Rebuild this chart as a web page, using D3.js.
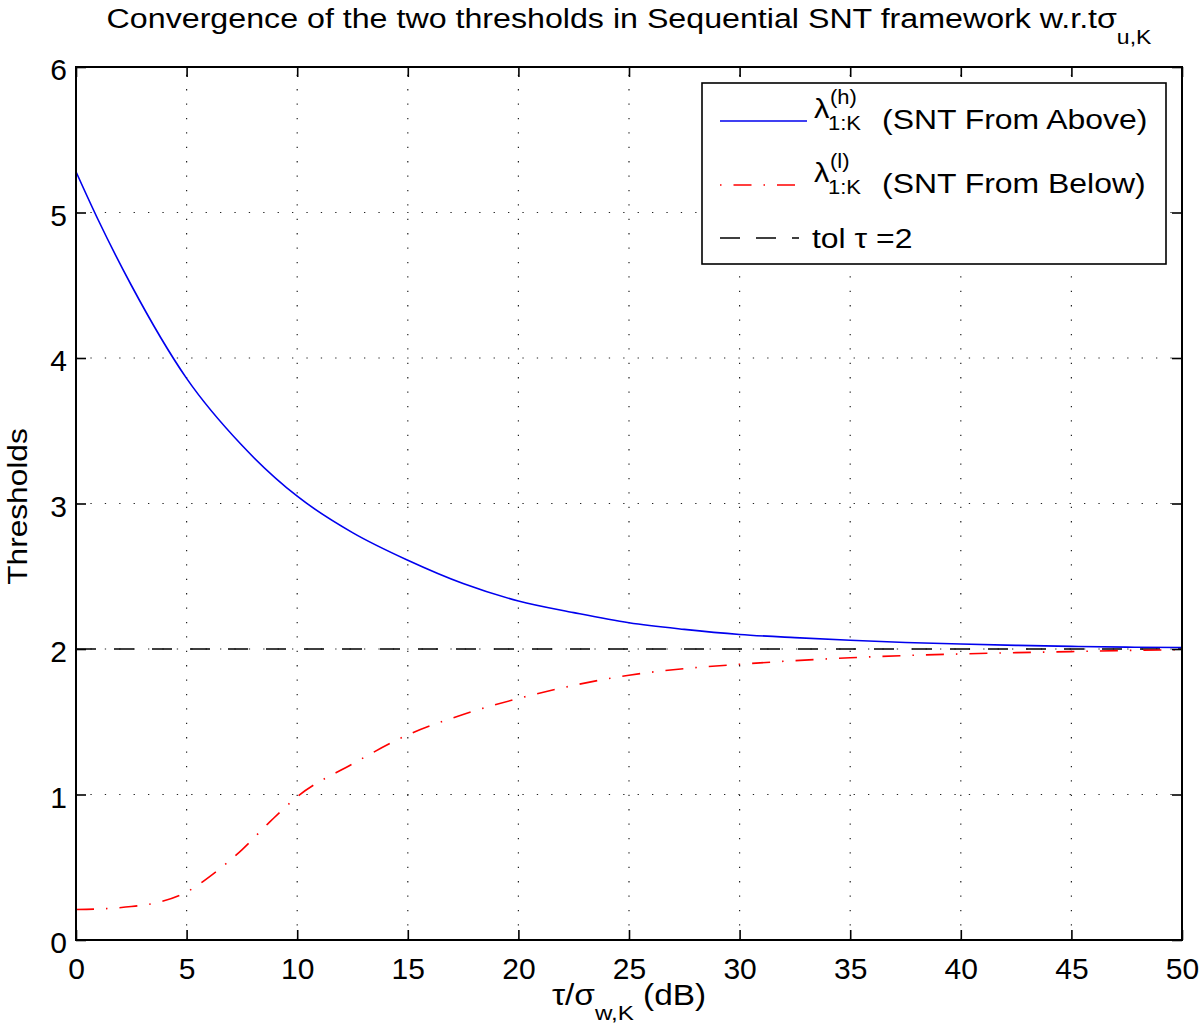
<!DOCTYPE html>
<html>
<head>
<meta charset="utf-8">
<script src="https://cdn.jsdelivr.net/npm/d3@7"></script>
<style>
  html, body { margin: 0; padding: 0; background: #fff; }
  svg { display: block; font-family: "Liberation Sans", Arial, Helvetica, sans-serif; }
</style>
</head>
<body>
<svg id="chart" width="1200" height="1030"></svg>
<script>
// ---- data ----
const xValues = [0, 1, 2.5, 5, 7.5, 10, 12.5, 15, 17.5, 20, 22.5, 25, 27.5, 30, 32.5, 35, 37.5, 40, 42.5, 45, 47.5, 50];
const aboveValues = [5.28, 4.95, 4.50, 3.86, 3.40, 3.05, 2.80, 2.61, 2.45, 2.33, 2.25, 2.18, 2.135, 2.10, 2.078, 2.06, 2.045, 2.034, 2.025, 2.018, 2.013, 2.01];
const belowX = [0, 1.25, 2.5, 3.75, 5, 6.25, 7.5, 8.75, 10, 12.5, 15, 17.5, 20, 22.5, 25, 27.5, 30, 32.5, 35, 37.5, 40, 42.5, 45, 47.5, 50];
const belowValues = [0.21, 0.215, 0.23, 0.26, 0.33, 0.46, 0.62, 0.81, 0.985, 1.21, 1.41, 1.55, 1.66, 1.75, 1.82, 1.865, 1.895, 1.92, 1.94, 1.955, 1.966, 1.975, 1.982, 1.99, 1.995];
const tolValue = 2;
const xTicks = [0, 5, 10, 15, 20, 25, 30, 35, 40, 45, 50];
const yTicks = [0, 1, 2, 3, 4, 5, 6];

const svg = d3.select("#chart");
const L = 76, R = 1182, T = 67, B = 940;
const x = d3.scaleLinear().domain([0, 50]).range([L, R]);
const y = d3.scaleLinear().domain([0, 6]).range([B, T]);

// text helper: horizontally stretched text like the reference rendering
function addText(parent, px, py, size, sx, anchor, rot) {
  const g = parent.append("g").attr("transform", `translate(${px},${py})${rot ? ` rotate(${rot})` : ""} scale(${sx},1)`);
  return g.append("text").attr("x", 0).attr("y", 0).attr("font-size", size).attr("fill", "#000")
    .attr("text-anchor", anchor || "start");
}

// grid
const grid = svg.append("g").attr("stroke", "#222").attr("stroke-width", 1.2).attr("stroke-dasharray", "1.3,13.1");
grid.selectAll("line.v").data(xTicks.slice(1, -1)).join("line")
  .attr("x1", d => x(d)).attr("x2", d => x(d)).attr("y1", B).attr("y2", T);
grid.selectAll("line.h").data(yTicks.slice(1, -1)).join("line")
  .attr("y1", d => y(d)).attr("y2", d => y(d)).attr("x1", L).attr("x2", R);

// curves
const lineA = d3.line().x((d, i) => x(xValues[i])).y(d => y(d)).curve(d3.curveMonotoneX);
const lineB = d3.line().x((d, i) => x(belowX[i])).y(d => y(d)).curve(d3.curveMonotoneX);

svg.append("line").attr("x1", x(0)).attr("x2", x(50)).attr("y1", y(tolValue)).attr("y2", y(tolValue))
  .attr("stroke", "#000").attr("stroke-width", 1.6).attr("stroke-dasharray", "20,18");
svg.append("path").datum(belowValues).attr("d", lineB).attr("fill", "none")
  .attr("stroke", "#ff0000").attr("stroke-width", 1.6).attr("stroke-dasharray", "18,12,1.5,12");
svg.append("path").datum(aboveValues).attr("d", lineA).attr("fill", "none")
  .attr("stroke", "#0000ee").attr("stroke-width", 1.6);

// axes
const fs = 30;
const fmt = d3.format("d");
const axB = svg.append("g").attr("transform", `translate(0,${B})`)
  .call(d3.axisBottom(x).tickValues(xTicks).tickFormat(fmt).tickSizeInner(-10).tickSizeOuter(0).tickPadding(18));
const axT = svg.append("g").attr("transform", `translate(0,${T})`)
  .call(d3.axisTop(x).tickValues(xTicks).tickSizeInner(-10).tickSizeOuter(0).tickFormat(""));
const axL = svg.append("g").attr("transform", `translate(${L},0)`)
  .call(d3.axisLeft(y).tickValues(yTicks).tickFormat(fmt).tickSizeInner(-10).tickSizeOuter(0).tickPadding(9));
const axR = svg.append("g").attr("transform", `translate(${R},0)`)
  .call(d3.axisRight(y).tickValues(yTicks).tickSizeInner(-10).tickSizeOuter(0).tickFormat(""));
[axB, axT, axL, axR].forEach(a => {
  a.select(".domain").remove();
  a.selectAll(".tick line").attr("stroke", "#000").attr("stroke-width", 1.6);
  a.selectAll("text").attr("font-size", fs).attr("fill", "#000").attr("font-family", "Liberation Sans, Arial, sans-serif");
});
axL.selectAll("text").attr("dy", "0.43em");

svg.append("rect").attr("x", L).attr("y", T).attr("width", R - L).attr("height", B - T)
  .attr("fill", "none").attr("stroke", "#000").attr("stroke-width", 2);

// title
const title = addText(svg, (L + R) / 2, 28, 28, 1.15, "middle");
title.append("tspan").text("Convergence of the two thresholds in Sequential SNT framework w.r.t\u03C3");
title.append("tspan").attr("font-size", 20).attr("dy", 16).text("u,K");

// y label
addText(svg, 27, (T + B) / 2 + 3, 28, 1.13, "middle", -90).text("Thresholds");

// x label
const xl = addText(svg, (L + R) / 2, 1005, 29, 1.15, "middle");
xl.append("tspan").text("\u03C4/\u03C3");
xl.append("tspan").attr("font-size", 21).attr("dy", 15).text("w,K");
xl.append("tspan").attr("dy", -15).text(" (dB)");

// legend
const lg = svg.append("g");
lg.append("rect").attr("x", 702).attr("y", 83).attr("width", 464).attr("height", 181)
  .attr("fill", "#fff").attr("stroke", "#000").attr("stroke-width", 1.6);
const legendItems = [
  { sup: "(h)", label: "(SNT From Above)", color: "#0000ee", dash: null, ly: 121 },
  { sup: "(l)", label: "(SNT From Below)", color: "#ff0000", dash: "18,12,1.5,12", ly: 185 }
];
legendItems.forEach(it => {
  lg.append("line").attr("x1", 720).attr("x2", 807).attr("y1", it.ly).attr("y2", it.ly)
    .attr("stroke", it.color).attr("stroke-width", 1.6).attr("stroke-dasharray", it.dash)
    .attr("stroke-dashoffset", it.dash ? 30 : null);
  addText(lg, 814, it.ly - 3, 28, 1.1, "start").text("\u03BB");
  addText(lg, 830, it.ly - 17, 20, 1.1, "start").text(it.sup);
  addText(lg, 828, it.ly + 9, 20, 1.1, "start").text("1:K");
  addText(lg, 882, it.ly + 8, 28, 1.14, "start").text(it.label);
});
lg.append("line").attr("x1", 720).attr("x2", 799).attr("y1", 238).attr("y2", 238)
  .attr("stroke", "#000").attr("stroke-width", 1.6).attr("stroke-dasharray", "20,16");
addText(lg, 812, 248, 28, 1.14, "start").text("tol \u03C4 =2");
</script>
</body>
</html>
